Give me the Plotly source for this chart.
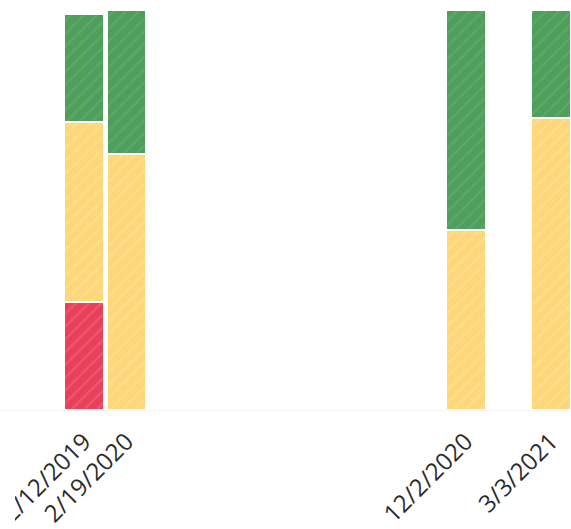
import plotly.graph_objects as go

# Survey dates and share of responses (%) per rating band
dates = ["2019-12-12", "2020-02-19", "2020-12-02", "2021-03-03"]
date_labels = ["12/12/2019", "2/19/2020", "12/2/2020", "3/3/2021"]
red_pct = [27, 0, 0, 0]
yellow_pct = [45, 64, 45, 73]
green_pct = [27, 36, 55, 27]

BAR_WIDTH_MS = 33 * 24 * 3600 * 1000
FIG_W, FIG_H = 571, 529

series = [
    ("Red", red_pct, "#E8405B", "#F27A8C"),
    ("Yellow", yellow_pct, "#FDD77A", "#FFE6A6"),
    ("Green", green_pct, "#4E9E5C", "#72B57D"),
]

fig = go.Figure()
for name, vals, color, hatch in series:
    fig.add_trace(go.Bar(
        x=dates,
        y=vals,
        name=name,
        width=[BAR_WIDTH_MS] * len(dates),
        marker=dict(
            color=color,
            line=dict(color="white", width=1.5),
            pattern=dict(shape="/", fgcolor=hatch, fgopacity=0.4,
                         size=9, solidity=0.25),
        ),
        hoverinfo="x+y+name",
    ))

# The visual container clips the leftmost strip of the axis labels
fig.add_shape(
    type="rect", xref="paper", yref="paper",
    x0=-0.01, x1=15 / FIG_W, y0=-0.3, y1=-0.005,
    fillcolor="white", line=dict(width=0), layer="above",
)

fig.update_layout(
    barmode="stack",
    width=FIG_W,
    height=FIG_H,
    margin=dict(l=0, r=0, t=10, b=119),
    paper_bgcolor="white",
    plot_bgcolor="white",
    showlegend=False,
    font=dict(family="Open Sans", color="#2B2B2B"),
    xaxis=dict(
        type="date",
        range=["2019-10-02", "2021-03-20"],
        rangebreaks=[
            dict(bounds=["2019-12-30", "2020-02-01"]),
            dict(bounds=["2020-12-24", "2021-01-12"]),
        ],
        tickmode="array",
        tickvals=dates,
        ticktext=date_labels,
        tickangle=-45,
        tickfont=dict(size=24, color="#2B2B2B"),
        ticklabeloverflow="allow",
        ticklabelstandoff=7,
        showgrid=False,
        zeroline=False,
        showline=True,
        linecolor="#F2F4F6",
        linewidth=1,
        automargin=False,
    ),
    yaxis=dict(
        range=[0, 100],
        visible=False,
        showgrid=False,
        zeroline=False,
    ),
)

fig.write_html("out.html")
